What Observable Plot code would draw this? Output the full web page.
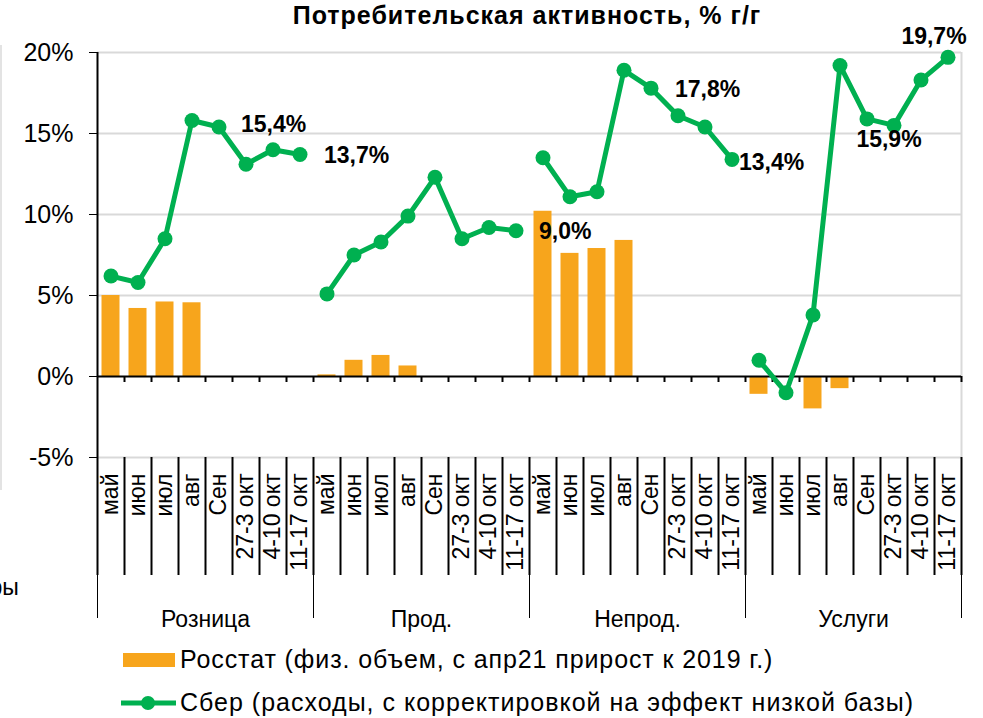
<!DOCTYPE html>
<html><head><meta charset="utf-8">
<script src="https://cdn.jsdelivr.net/npm/d3@7"></script>
<script src="https://cdn.jsdelivr.net/npm/@observablehq/plot@0.6"></script>
<style>
body{margin:0;background:#fff;font-family:Arial,"Liberation Sans",sans-serif;}
#wrap{position:relative;width:983px;height:718px;overflow:hidden;}
#title{position:absolute;left:0;width:1054px;top:1px;text-align:center;font-weight:bold;font-size:25px;letter-spacing:1px;color:#000;}
#chart{position:absolute;left:0;top:0;}
#edge{position:absolute;left:0;top:45px;width:2px;height:445px;background:#e3e3e3;}
.leg{position:absolute;left:121px;font-size:25px;display:flex;align-items:center;color:#000;white-space:nowrap;}
.leg svg{margin-right:2px;}
</style></head>
<body>
<div id="wrap">
<div id="edge"></div>
<div id="chart"></div>
<div id="title">Потребительская активность, % г/г</div>
<div class="leg" style="top:645px;letter-spacing:0.9px"><svg width="57" height="28"><rect x="2" y="7" width="52" height="14" fill="#F7A51C"/></svg>Росстат (физ. объем, с апр21 прирост к 2019 г.)</div>
<div class="leg" style="top:688px;letter-spacing:1px"><svg width="57" height="28"><line x1="0" x2="55" y1="14" y2="14" stroke="#00B050" stroke-width="5"/><circle cx="27" cy="14" r="7" fill="#00B050"/></svg>Сбер (расходы, с корректировкой на эффект низкой базы)</div>
</div>
<script>
const groups = ["Розница", "Прод.", "Непрод.", "Услуги"];
const periods = ["май", "июн", "июл", "авг", "Сен", "27-3 окт", "4-10 окт", "11-17 окт"];
const yTicks = [-5, 0, 5, 10, 15, 20];

const rosstatRetail   = [5.0, 4.2, 4.6, 4.55, null, null, null, null];
const rosstatFood     = [0.1, 1.0, 1.3, 0.65, null, null, null, null];
const rosstatNonFood  = [10.2, 7.6, 7.9, 8.4, null, null, null, null];
const rosstatServices = [-1.1, null, -2.0, -0.75, null, null, null, null];

const sberRetail   = [6.2, 5.8, 8.5, 15.8, 15.4, 13.1, 14.0, 13.7];
const sberFood     = [5.1, 7.5, 8.3, 9.9, 12.3, 8.5, 9.2, 9.0];
const sberNonFood  = [13.5, 11.1, 11.4, 18.9, 17.8, 16.1, 15.4, 13.4];
const sberServices = [1.0, -1.0, 3.8, 19.2, 15.9, 15.5, 18.3, 19.7];

// labelled points: [group, period]
const labelled = [["Розница","Сен"],["Розница","11-17 окт"],["Прод.","11-17 окт"],["Непрод.","Сен"],["Непрод.","11-17 окт"],["Услуги","Сен"],["Услуги","11-17 окт"]];

const rosstat = [rosstatRetail, rosstatFood, rosstatNonFood, rosstatServices];
const sber = [sberRetail, sberFood, sberNonFood, sberServices];

const rows = [];
groups.forEach((g, gi) => periods.forEach((p, pi) => {
  rows.push({group: g, period: p, i: gi * periods.length + pi, r: rosstat[gi][pi], s: sber[gi][pi]});
}));
const nCat = rows.length;
const bounds = d3.range(nCat + 1);
const groupBounds = d3.range(0, nCat + 1, periods.length);
const groupRows = groups.map((g, gi) => ({group: g, c: gi * periods.length + periods.length / 2}));
const fmt = v => v.toFixed(1).replace(".", ",") + "%";
const lab = rows.filter(d => labelled.some(([g, p]) => g === d.group && p === d.period));
const labPos = {
  "Розница|Сен": {dx: 22, dy: -2, a: "start"},
  "Розница|11-17 окт": {dx: 24, dy: 1, a: "start"},
  "Прод.|11-17 окт": {dx: 23, dy: 1, a: "start"},
  "Непрод.|Сен": {dx: 24, dy: 1, a: "start"},
  "Непрод.|11-17 окт": {dx: 7, dy: 3, a: "start"},
  "Услуги|Сен": {dx: 22, dy: 21, a: "middle"},
  "Услуги|11-17 окт": {dx: -14, dy: -21, a: "middle"}
};
const labMarks = lab.map(d => {
  const o = labPos[d.group + "|" + d.period];
  return Plot.text([d], {x: d => d.i + 0.5, y: "s", text: d => fmt(d.s), dx: o.dx, dy: o.dy, textAnchor: o.a,
    fontSize: 23, fontWeight: "bold", fill: "#000"});
});

const chart = Plot.plot({
  width: 983, height: 640,
  marginTop: 52, marginBottom: 183, marginLeft: 97, marginRight: 22,
  style: {fontFamily: "Arial, 'Liberation Sans', sans-serif", background: "transparent", overflow: "visible"},
  x: {domain: [0, nCat], axis: null},
  y: {domain: [-5, 20], axis: null},
  marks: [
    Plot.ruleY(yTicks.filter(t => t !== 0), {stroke: "#d9d9d9", strokeWidth: 2}),
    Plot.ruleX([nCat], {y1: -5, y2: 20, stroke: "#d9d9d9", strokeWidth: 2}),
    Plot.rectY(rows.filter(d => d.r != null), {x1: "i", x2: d => d.i + 1, y: "r", insetLeft: 4.5, insetRight: 4.5, fill: "#F7A51C"}),
    Plot.ruleY([0], {stroke: "#000", strokeWidth: 2}),
    Plot.ruleX(bounds.slice(1), {y1: 0, y2: 0, insetBottom: -6, stroke: "#000", strokeWidth: 2}),
    Plot.ruleX(bounds, {y1: -5, y2: -5, insetBottom: -118, stroke: "#000", strokeWidth: 2}),
    Plot.ruleX(groupBounds, {y1: -5, y2: -5, insetBottom: -161, stroke: "#000", strokeWidth: 1}),
    Plot.ruleX([0], {y1: 20, y2: -5, stroke: "#000", strokeWidth: 2}),
    Plot.axisY({ticks: yTicks, tickFormat: d => d + "%", tickSize: 8, tickPadding: 16, fontSize: 25, label: null, stroke: "#000", color: "#000"}),
    Plot.line(rows, {x: d => d.i + 0.5, y: "s", z: "group", stroke: "#00B050", strokeWidth: 5}),
    Plot.dot(rows, {x: d => d.i + 0.5, y: "s", r: 7.5, fill: "#00B050"}),
    ...labMarks,
    Plot.text(rows, {x: d => d.i + 0.5, y: -5, text: "period", rotate: -90, textAnchor: "end", dy: 16, fontSize: 23, fill: "#000"}),
    Plot.text(groupRows, {x: "c", y: -5, text: "group", dy: 162, fontSize: 23, fill: "#000", style: "letter-spacing:0.6px"}),
    Plot.text(["ры"], {x: 0, y: -5, text: d => d, frameAnchor: "left", dx: -108, dy: 130, textAnchor: "start", fontSize: 23, fill: "#000"})
  ]
});
document.getElementById("chart").appendChild(chart);
</script>
</body></html>
